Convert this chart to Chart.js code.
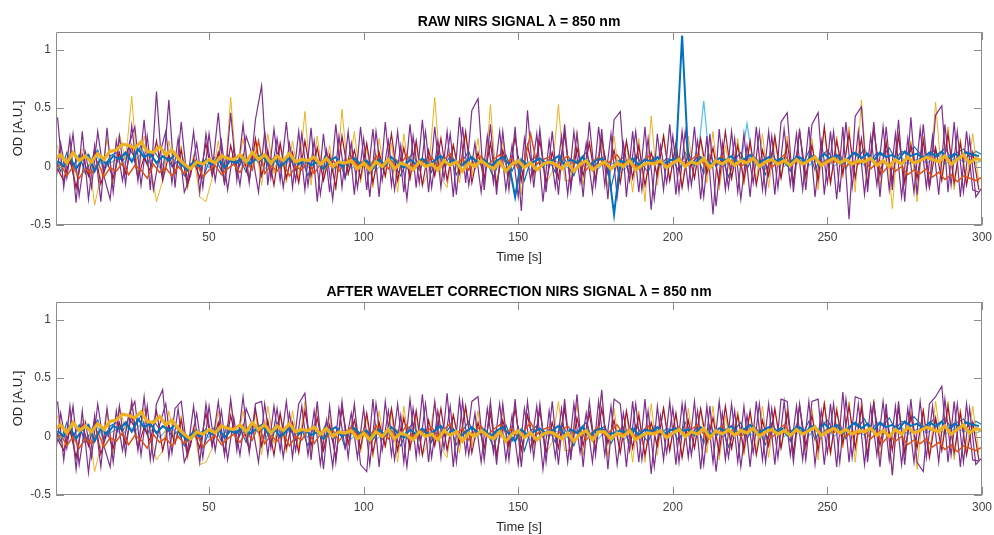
<!DOCTYPE html>
<html>
<head>
<meta charset="utf-8">
<script src="https://cdn.jsdelivr.net/npm/chart.js@4.4.0/dist/chart.umd.min.js"></script>
<style>
  body { margin: 0; background: #fff; width: 994px; height: 535px; overflow: hidden; position: relative; }
  canvas { position: absolute; left: 0; }
  #rawChart { top: 0; }
  #waveletChart { top: 270px; }
</style>
</head>
<body>
<canvas id="rawChart" width="994" height="265"></canvas>
<canvas id="waveletChart" width="994" height="265"></canvas>
<script>
// sample times [s]; channels alternate between the two grids
const timeEven = [0,2,4,6,8,10,12,14,16,18,20,22,24,26,28,30,32,34,36,38,40,42,44,46,48,50,52,54,56,58,60,62,64,66,68,70,72,74,76,78,80,82,84,86,88,90,92,94,96,98,100,102,104,106,108,110,112,114,116,118,120,122,124,126,128,130,132,134,136,138,140,142,144,146,148,150,152,154,156,158,160,162,164,166,168,170,172,174,176,178,180,182,184,186,188,190,192,194,196,198,200,202,204,206,208,210,212,214,216,218,220,222,224,226,228,230,232,234,236,238,240,242,244,246,248,250,252,254,256,258,260,262,264,266,268,270,272,274,276,278,280,282,284,286,288,290,292,294,296,298,300];
const timeOdd = [1,3,5,7,9,11,13,15,17,19,21,23,25,27,29,31,33,35,37,39,41,43,45,47,49,51,53,55,57,59,61,63,65,67,69,71,73,75,77,79,81,83,85,87,89,91,93,95,97,99,101,103,105,107,109,111,113,115,117,119,121,123,125,127,129,131,133,135,137,139,141,143,145,147,149,151,153,155,157,159,161,163,165,167,169,171,173,175,177,179,181,183,185,187,189,191,193,195,197,199,201,203,205,207,209,211,213,215,217,219,221,223,225,227,229,231,233,235,237,239,241,243,245,247,249,251,253,255,257,259,261,263,265,267,269,271,273,275,277,279,281,283,285,287,289,291,293,295,297,299];

const xTickValues = [50, 100, 150, 200, 250, 300];
const yTickValues = [-0.5, 0, 0.5, 1];

// raw OD per channel
const rawYellow = [.06,.10,.03,.12,.05,.09,.04,.11,.06,.13, .14,.19,.18,.16,.21,.13,.12,.17,.10,.14, .07,.02,-.02,.04,.02,.06,.03,.09,.07,.06, .10,.04,.12,.06,.10,.03,.09,.05,.11,.04, .06,.05,.08,.02,.07,.00,.04,.03,.05,-.02, .03,-.03,.04,.00,.06,-.02,.03,.01,-.03,.04, .00,.02,-.03,.05,.01,.04,-.04,.03,.00,.05, .01,-.02,.04,-.04,.02,.05,-.01,.03,-.03,.02, .04,.02,-.02,.03,-.04,.02,.05,-.03,.01,.04, -.02,.03,.00,.05,-.03,.01,.03,.02,.05,-.01, .03,.06,.00,.04,.02,.07,-.01,.05,.02,.06, .01,.05,.03,.07,.00,.04,.06,.02,.05,.01, .06,.02,.05,.08,.01,.04,.07,.03,.06,.02, .05,.04,.07,.01,.05,.00,.06,.02,.08,.03, .05,.08,.06,.04,.09,.02,.06,.10,.03,.07, .05];
const rawYellow2 = [.18,-.12,.22,-.20,.15,.10,-.33,-.08,.24,-.15, .28,.05,.60,-.10,.26,.02,-.30,-.12,.22,-.05, .18,-.20,.10,-.26,-.30,-.10,.22,-.14,.59,-.08, .24,-.12,.20,-.16,.28,-.06,.18,-.14,.22,-.10, .47,-.16,.26,-.12,.18,-.20,.49,-.08,.30,-.14, .16,-.18,.24,-.10,.20,-.22,.28,-.12,.18,-.16, -.05,.59,-.10,-.18,.20,-.14,.26,-.08,.24,-.20, .53,-.16,.22,-.12,.28,-.24,.20,-.10,.26,-.14, -.05,.53,-.12,-.12,.30,-.16,.22,-.08,.20,-.18, .26,-.14,.20,-.22,.24,-.30,.43,-.16,.28,-.12, .20,-.18,.26,-.10,.22,-.14,.30,-.20,.18,-.12, .24,-.16,.20,-.12,.28,-.18,.22,-.10,.26,-.14, .30,-.12,.24,-.20,.32,-.16,.26,-.10,.34,-.22, .57,-.14,.36,-.18,.24,-.36,.30,-.12,.22,-.30, .26,-.16,.55,-.10,.34,-.20,.24,-.12,.28,-.14];
const rawPurple = [.42,-.18,.25,-.31,.30,-.28,.18,-.30,.33,-.22, .26,-.15,.35,-.12,.40,-.20,.64,-.10,.57,-.18, .38,-.14,.30,-.22,.28,-.05,.46,-.16,.46,-.12, .36,-.14,.40,.69,-.16,.32,-.12,.38,-.18,.30, -.20,.33,-.30,.28,-.22,.36,-.18,.30,-.24,.34, -.20,.32,-.26,.38,-.16,.30,-.22,.36,-.18,.40, -.22,.34,-.18,.30,-.26,.42,-.14,.48,.58,-.20, .36,-.24,.30,-.20,.34,-.38,.48,-.18,.32,-.22, .30,-.24,.36,-.20,.28,-.26,.38,-.16,.32,-.28, .40,.47,-.26,.30,-.22,.34,-.37,.28,-.20,.36, -.24,.30,-.18,.34,-.28,.26,-.41,.32,-.20,.30, -.22,.28,-.26,.34,-.20,.30,-.24,.38,.46,-.22, .32,-.20,.36,.46,-.24,.30,-.28,.34,-.45,.43, .51,-.22,.38,-.26,.34,-.20,.40,-.30,.42,-.24, .36,-.18,.44,.52,-.22,.38,-.26,.30,-.20,-.22];
const rawPurple2 = [-.22,.20,-.10,.28,-.25,.12,-.18,.30,-.08,-.28, .22,-.12,.18,.34,-.16,.26,-.20,.10,.30,-.14, .24,-.22,-.08,.20,-.18,.28,-.12,.22,-.20,.16, -.16,.26,.10,-.22,.30,-.10,.24,-.18,.20,-.12, .28,-.16,.22,-.24,.14,-.28,.26,-.10,.20,-.18, .24,-.26,.30,-.12,.22,-.20,.18,-.28,.26,-.14, .30,-.18,.22,-.10,.28,-.24,.34,-.16,.20,-.22, .26,-.14,.30,-.20,.18,-.26,.24,-.12,.28,-.30, .22,-.18,.26,-.24,.30,-.14,.20,-.22,.34,-.16, .28,-.26,.20,-.12,.30,-.20,.24,-.28,.18,-.14, .26,-.22,.30,-.16,.22,-.26,.28,-.34,.20,-.18, .24,-.28,.18,-.14,.30,-.22,.26,-.18,.32,-.16, .28,-.20,.34,-.26,.22,-.14,.30,-.22,.38,-.18, .30,-.24,.26,-.16,.34,-.20,.28,-.26,.24,-.22, .32,-.18,.26,-.24,.36,-.16,.30,-.22,.24,-.26, -.18];
const rawBlue = [.05,.00,.08,-.02,.06,.10,-.04,.07,.02,.09, .06,.12,.04,.15,.08,.11,.03,.09,.05,.10, .02,-.03,.04,.00,.06,.02,.07,-.01,.05,.03, .08,.02,.06,.10,.03,.07,.00,.05,.08,.02, .06,.01,.04,-.02,.05,.08,.00,.04,.07,.02, .05,-.02,.06,.01,.08,.03,-.01,.06,.02,.07, .01,.05,.09,.02,.06,-.01,.04,.08,.03,.06, .00,.05,.08,.02,-.26,.06,.01,.04,.07,.03, .05,.09,.01,.06,.03,.08,.00,.05,.07,.02, -.41,.05,.03,.07,.01,.06,.04,.08,.02,.05, .07,1.12,.06,.01,.08,.04,.02,.07,.05,.09, .03,.06,.10,.02,.05,.08,.04,.07,.01,.06, .08,.04,.09,.05,.11,.06,.10,.03,.08,.12, .07,.11,.05,.12,.08,.10,.06,.13,.09,.11, .07,.12,.09,.13,.06,.11,.08,.12,.10,.09];
const rawBlue2 = [.08,-.04,.12,.00,.10,-.06,.06,.14,-.02,.09, .12,.04,.16,.08,.18,.02,.14,.06,.10,.00, .05,-.08,.02,.06,-.10,.04,.08,-.04,.10,.02, .07,-.05,.11,.03,.09,-.06,.12,.01,.08,-.03, .06,-.08,.10,.00,.12,-.04,.07,-.10,.09,.02, .04,-.06,.10,-.02,.08,.01,-.08,.06,.11,-.03, .07,-.05,.12,.00,.09,-.07,.05,.13,-.02,.08, .03,-.09,.06,.10,-.04,.08,-.12,.05,.09,-.01, .06,-.05,.11,.02,-.08,.07,.12,-.03,.05,.09, -.18,.04,.08,-.06,.10,.02,-.05,.09,.01,.07, .05,-.04,.12,.03,.08,-.06,.10,.00,.07,-.09, .06,.12,-.02,.09,.04,-.07,.11,.03,.08,-.04, .10,.02,.13,-.03,.09,.14,.05,.11,-.02,.12, .08,.15,.04,.12,.09,.16,.06,.13,.10,.17, .11,.06,.14,.09,.16,.07,.12,.15,.08,.13, .10];
const rawOrange = [-.05,.02,-.08,.00,-.10,-.02,-.06,.04,-.09,-.01, -.04,.03,-.07,.01,-.03,-.10,.02,-.05,-.01,-.08, .00,-.06,-.02,.03,-.09,-.03,.01,-.07,-.02,.02, -.05,.04,-.03,.22,-.06,.01,-.04,.03,-.08,.00, -.03,.05,-.06,.02,-.01,.06,-.04,.03,.08,.01, .05,.00,.09,.03,-.02,.07,.02,.10,-.01,.06, .03,.08,.00,.06,.11,.02,.07,-.03,.05,.09, .01,.06,.10,.03,.07,-.02,.05,.28,.02,.06, .08,.00,.05,.09,.02,.06,-.03,.04,.08,.01, .05,.10,.02,.07,-.01,.04,.09,.03,.06,.00, .04,.08,.01,.06,.10,.02,-.02,.05,.09,.03, .06,.00,.04,.08,.02,.07,-.01,.05,.10,.03, .07,.02,.05,.09,.01,.06,.03,.08,.00,.04, .02,.06,-.02,.03,-.05,.01,-.04,.00,-.07,-.03, -.06,-.02,-.09,-.05,-.11,-.07,-.13,-.08,-.10,-.12, -.09];
const rawDarkRed = [-.02,-.12,.06,-.18,.10,-.08,.14,-.15,.04,-.10, .12,-.06,.18,-.10,.08,-.04,.22,-.12,.10,-.06, .14,-.16,.06,-.10,.20,-.08,.12,-.14,.18,-.06, .10,-.12,.24,-.08,.14,-.16,.20,-.10,.12,-.14, .22,-.08,.16,-.12,.10,-.18,.26,-.06,.14,-.10, .20,-.14,.12,-.08,.28,-.12,.16,-.10,.22,-.16, .14,-.08,.24,-.12,.18,-.06,.30,-.14,.12,-.10, .20,-.16,.14,-.08,.26,-.12,.18,-.06,.22,-.14, .12,-.10,.28,-.16,.16,-.08,.20,-.12,.24,-.06, .14,-.14,.22,-.10,.18,-.16,.12,-.08,.26,-.12, .20,-.18,.14,-.10,.24,-.06,.16,-.14,.30,-.10, .18,-.12,.22,-.16,.14,-.08,.26,-.10,.20,-.14, .30,-.08,.18,-.12,.34,-.14,.22,-.06,.28,-.10, .24,-.16,.32,-.08,.20,-.12,.26,-.14,.18,-.10, .22,-.18,.16,-.12,.28,-.14,.20,-.16,.12,-.20];
const rawCyan = [.02,-.04,.05,.00,.07,-.02,.04,.08,-.03,.03, .06,.01,.09,.04,.11,.02,.07,-.01,.05,.08, .00,.04,-.03,.02,.05,-.01,.06,.02,.04,.07, .01,.05,.03,.08,-.02,.04,.06,.00,.05,.02, .06,-.01,.03,.05,.00,.04,.02,.06,-.02,.03, .01,.05,-.03,.02,.04,.00,.06,-.02,.03,.01, .05,-.01,.03,.06,.00,.04,-.03,.02,.05,.01, .03,.00,.06,-.02,.04,.01,.05,-.03,.02,.04, .00,.05,.02,-.01,.04,.06,.01,.03,-.02,.05, .02,.04,-.03,.01,.05,.00,.03,.06,.01,.04, .02,.05,.04,.03,.05,.56,.01,.04,.00,.03, .05,.02,.37,.01,.04,-.02,.03,.06,.00,.04, .02,.06,.01,.05,.03,.07,.00,.04,.06,.02, .05,.01,.07,.03,.06,.00,.04,.08,.02,.05, .07,.03,.06,.09,.02,.05,.08,.04,.06,.03, .05];

// OD per channel after wavelet correction
const wavYellow = [.06,.10,.03,.12,.05,.09,.04,.11,.06,.13, .14,.19,.18,.16,.21,.13,.12,.17,.10,.14, .07,.02,-.02,.04,.02,.06,.03,.09,.07,.06, .10,.04,.12,.06,.10,.03,.09,.05,.11,.04, .06,.05,.08,.02,.07,.00,.04,.03,.05,-.02, .03,-.03,.04,.00,.06,-.02,.03,.01,-.03,.04, .00,.02,-.03,.05,.01,.04,-.04,.03,.00,.05, .01,-.02,.04,-.04,.02,.05,-.01,.03,-.03,.02, .04,.02,-.02,.03,-.04,.02,.05,-.03,.04,.04, -.02,.03,.00,.05,-.03,.01,.03,.02,.05,-.01, .03,.06,.00,.04,.02,.07,-.01,.05,.02,.06, .01,.05,.03,.07,.00,.04,.06,.02,.05,.01, .06,.02,.05,.08,.01,.04,.07,.03,.06,.02, .05,.04,.07,.01,.05,.00,.06,.02,.08,.03, .05,.08,.06,.04,.09,.02,.06,.10,.03,.07, .05];
const wavYellow2 = [.18,-.12,.22,-.20,.15,.10,-.30,-.08,.24,-.15, .26,.05,.30,-.10,.24,.02,-.20,-.12,.22,-.05, .18,-.20,.10,-.24,-.22,-.10,.22,-.14,.28,-.08, .22,-.12,.20,-.16,.26,-.06,.18,-.14,.22,-.10, .30,-.16,.24,-.12,.18,-.20,.28,-.08,.26,-.14, .16,-.18,.22,-.10,.20,-.22,.26,-.12,.18,-.16, -.05,.30,-.10,-.18,.20,-.14,.24,-.08,.22,-.20, .28,-.16,.22,-.12,.26,-.22,.20,-.10,.24,-.14, -.05,.30,-.12,-.12,.28,-.16,.22,-.08,.38,-.18, .24,-.14,.20,-.22,.22,-.22,.28,-.16,.26,-.12, .20,-.18,.24,-.10,.22,-.14,.26,-.20,.18,-.12, .22,-.16,.20,-.12,.26,-.18,.22,-.10,.24,-.14, .28,-.12,.24,-.20,.30,-.16,.26,-.10,.30,-.22, .30,-.14,.32,-.18,.24,-.33,.28,-.12,.22,-.28, .24,-.16,.30,-.10,.30,-.20,.24,-.12,.26,-.14];
const wavPurple = [.30,-.20,.26,-.28,.22,-.31,.18,-.26,.24,-.22, .26,-.15,.30,-.12,.34,-.20,.28,.40,-.18,.24, .30,-.14,.26,-.22,.28,-.08,.30,-.16,.32,-.12, .34,-.14,.28,.30,-.16,.26,-.12,.30,-.18,.28, .37,-.20,.30,-.28,.26,-.22,.30,-.18,.28,-.24, -.30,.32,-.26,.30,-.16,.28,-.22,.32,-.18,.36, -.22,.30,-.18,.37,-.26,.32,-.14,.30,.34,-.20, .30,-.24,.28,-.20,.32,-.26,.30,-.18,.28,-.22, .30,-.24,.32,-.20,.36,-.26,.30,-.16,.40,-.28, .32,.28,-.26,.30,-.22,.32,-.32,.26,-.20,.30, -.24,.28,-.18,.30,-.28,.26,-.22,.30,-.20,.28, -.22,.26,-.26,.30,-.20,.28,-.24,.32,.30,-.22, .28,-.20,.30,.32,-.24,.28,-.26,.38,-.22,.34, .32,-.22,.30,-.26,.28,-.33,.30,-.24,.32,-.22, -.30,.28,.34,.43,-.22,.30,-.26,.28,-.20,-.21];
const wavPurple2 = [-.22,.20,-.10,.26,-.24,.12,-.18,.28,-.08,-.26, .22,-.12,.18,.30,-.16,.26,-.20,.10,.28,-.14, .24,-.22,-.08,.20,-.18,.26,-.12,.22,-.20,.16, -.16,.24,.10,-.22,.28,-.10,.24,-.18,.20,-.12, .26,-.16,.22,-.24,.14,-.26,.24,-.10,.20,-.18, .24,-.24,.28,-.12,.22,-.20,.18,-.26,.24,-.14, .28,-.18,.22,-.10,.26,-.22,.30,-.16,.20,-.22, .24,-.14,.28,-.20,.18,-.24,.24,-.12,.26,-.28, .22,-.18,.24,-.22,.28,-.14,.20,-.22,.30,-.16, .26,-.24,.20,-.12,.28,-.20,.22,-.26,.18,-.14, .24,-.22,.28,-.16,.22,-.24,.26,-.30,.20,-.18, .22,-.26,.18,-.14,.28,-.22,.24,-.18,.30,-.16, .26,-.20,.30,-.24,.22,-.14,.28,-.22,.32,-.18, .28,-.24,.26,-.16,.30,-.20,.26,-.24,.24,-.22, .30,-.18,.26,-.22,.32,-.16,.28,-.22,.24,-.24, -.18];
const wavBlue = [.05,.00,.08,-.02,.06,.10,-.04,.07,.02,.09, .06,.12,.04,.15,.08,.11,.03,.09,.05,.10, .02,-.03,.04,.00,.06,.02,.07,-.01,.05,.03, .08,.02,.06,.10,.03,.07,.00,.05,.08,.02, .06,.01,.04,-.02,.05,.08,.00,.04,.07,.02, .05,-.02,.06,.01,.08,.03,-.01,.06,.02,.07, .01,.05,.09,.02,.06,-.01,.04,.08,.03,.06, .00,.05,.08,.02,-.04,.06,.01,.04,.07,.03, .05,.09,.01,.06,.03,.08,.00,.05,.07,.02, .03,.05,.03,.07,.01,.06,.04,.08,.02,.05, .07,.05,.06,.01,.08,.04,.02,.07,.05,.09, .03,.06,.10,.02,.05,.08,.04,.07,.01,.06, .08,.04,.09,.05,.11,.06,.10,.03,.08,.12, .07,.11,.05,.12,.08,.10,.06,.13,.09,.11, .07,.12,.09,.13,.06,.11,.08,.12,.10,.09];
const wavBlue2 = [.08,-.04,.12,.00,.10,-.06,.06,.14,-.02,.09, .12,.04,.16,.08,.18,.02,.14,.06,.10,.00, .05,-.08,.02,.06,-.10,.04,.08,-.04,.10,.02, .07,-.05,.11,.03,.09,-.06,.12,.01,.08,-.03, .06,-.08,.10,.00,.12,-.04,.07,-.10,.09,.02, .04,-.06,.10,-.02,.08,.01,-.08,.06,.11,-.03, .07,-.05,.12,.00,.09,-.07,.05,.13,-.02,.08, .03,-.09,.06,.10,-.04,.08,-.12,.05,.09,-.01, .06,-.05,.11,.02,-.08,.07,.12,-.03,.05,.09, -.06,.04,.08,-.06,.10,.02,-.05,.09,.01,.07, .05,-.04,.12,.03,.08,-.06,.10,.00,.07,-.09, .06,.12,-.02,.09,.04,-.07,.11,.03,.08,-.04, .10,.02,.13,-.03,.09,.14,.05,.11,-.02,.12, .08,.15,.04,.12,.09,.16,.06,.13,.10,.17, .11,.06,.14,.09,.16,.07,.12,.15,.08,.13, .10];
const wavOrange = [-.05,.02,-.08,.00,-.10,-.02,-.06,.04,-.09,-.01, -.04,.03,-.07,.01,-.03,-.10,.02,-.05,-.01,-.08, .00,-.06,-.02,.03,-.09,-.03,.01,-.07,-.02,.02, -.05,.04,-.03,.10,-.06,.01,-.04,.03,-.08,.00, -.03,.05,-.06,.02,-.01,.06,-.04,.03,.08,.01, .05,.00,.09,.03,-.02,.07,.02,.10,-.01,.06, .03,.08,.00,.06,.11,.02,.07,-.03,.05,.09, .01,.06,.10,.03,.07,-.02,.05,.12,.02,.06, .08,.00,.05,.09,.02,.06,-.03,.04,.08,.01, .05,.10,.02,.07,-.01,.04,.09,.03,.06,.00, .04,.08,.01,.06,.10,.02,-.02,.05,.09,.03, .06,.00,.04,.08,.02,.07,-.01,.05,.10,.03, .07,.02,.05,.09,.01,.06,.03,.08,.00,.04, .02,.06,-.02,.03,-.05,.01,-.04,.00,-.07,-.03, -.06,-.02,-.09,-.05,-.11,-.07,-.13,-.08,-.10,-.12, -.09];
const wavDarkRed = [-.02,-.12,.06,-.18,.10,-.08,.14,-.15,.04,-.10, .12,-.06,.18,-.10,.08,-.04,.22,-.12,.10,-.06, .14,-.16,.06,-.10,.20,-.08,.12,-.14,.18,-.06, .10,-.12,.24,-.08,.14,-.16,.20,-.10,.12,-.14, .22,-.08,.16,-.12,.10,-.18,.24,-.06,.14,-.10, .20,-.14,.12,-.08,.24,-.12,.16,-.10,.22,-.16, .14,-.08,.24,-.12,.18,-.06,.26,-.14,.12,-.10, .20,-.16,.14,-.08,.24,-.12,.18,-.06,.22,-.14, .12,-.10,.24,-.16,.16,-.08,.20,-.12,.24,-.06, .14,-.14,.22,-.10,.18,-.16,.12,-.08,.24,-.12, .20,-.18,.14,-.10,.24,-.06,.16,-.14,.26,-.10, .18,-.12,.22,-.16,.14,-.08,.24,-.10,.20,-.14, .26,-.08,.18,-.12,.28,-.14,.22,-.06,.26,-.10, .24,-.16,.28,-.08,.20,-.12,.24,-.14,.18,-.10, .22,-.18,.16,-.12,.26,-.14,.20,-.16,.12,-.20];
const wavCyan = [.02,-.04,.05,.00,.07,-.02,.04,.08,-.03,.03, .06,.01,.09,.04,.11,.02,.07,-.01,.05,.08, .00,.04,-.03,.02,.05,-.01,.06,.02,.04,.07, .01,.05,.03,.08,-.02,.04,.06,.00,.05,.02, .06,-.01,.03,.05,.00,.04,.02,.06,-.02,.03, .01,.05,-.03,.02,.04,.00,.06,-.02,.03,.01, .05,-.01,.03,.06,.00,.04,-.03,.02,.05,.01, .03,.00,.06,-.02,.04,.01,.05,-.03,.02,.04, .00,.05,.02,-.01,.04,.06,.01,.03,-.02,.05, .02,.04,-.03,.01,.05,.00,.03,.06,.01,.04, .02,.05,.04,.03,.05,.06,.01,.04,.00,.03, .05,.02,.03,.01,.04,-.02,.03,.06,.00,.04, .02,.06,.01,.05,.03,.07,.00,.04,.06,.02, .05,.01,.07,.03,.06,.00,.04,.08,.02,.05, .07,.03,.06,.09,.02,.05,.08,.04,.06,.03, .05];

const lineColors = {
  yellow: '#EDB120', purple: '#7E2F8E', blue: '#0072BD',
  orange: '#D95319', darkRed: '#A2142F', cyan: '#4DBEEE'
};

Chart.defaults.font.family = '"Liberation Sans", Arial, Helvetica, sans-serif';

// axes box with inward tick marks on all four sides, plus the panel title
const boxTicks = {
  id: 'boxTicks',
  afterDraw(chart, args, opts) {
    const { ctx, chartArea: a, scales: { x, y } } = chart;
    const len = 8;
    ctx.save();
    ctx.strokeStyle = '#8c8c8c';
    ctx.lineWidth = 1;
    ctx.beginPath();
    ctx.rect(a.left + 0.5, a.top + 0.5, a.right - a.left - 1, a.bottom - a.top - 1);
    x.ticks.forEach(t => {
      const px = Math.round(x.getPixelForValue(t.value)) + 0.5;
      ctx.moveTo(px, a.bottom); ctx.lineTo(px, a.bottom - len);
      ctx.moveTo(px, a.top); ctx.lineTo(px, a.top + len);
    });
    y.ticks.forEach(t => {
      const py = Math.round(y.getPixelForValue(t.value)) + 0.5;
      ctx.moveTo(a.left, py); ctx.lineTo(a.left + len, py);
      ctx.moveTo(a.right, py); ctx.lineTo(a.right - len, py);
    });
    ctx.stroke();

    ctx.fillStyle = '#000';
    ctx.font = 'bold 14px "Liberation Sans", Arial, sans-serif';
    ctx.textAlign = 'center';
    ctx.textBaseline = 'middle';
    ctx.fillText(opts.text, (a.left + a.right) / 2, 22);
    ctx.restore();
  }
};

function toPoints(times, values) {
  return times.map((t, i) => ({ x: t, y: values[i] }));
}

function makeChart(id, title, channels) {
  return new Chart(document.getElementById(id), {
    type: 'line',
    data: {
      datasets: channels.map(c => ({
        data: toPoints(c.times, c.values),
        borderColor: c.color,
        borderWidth: c.width,
        pointRadius: 0,
        tension: 0
      }))
    },
    options: {
      responsive: false,
      animation: false,
      devicePixelRatio: 1,
      layout: { padding: { left: 0, right: 12, top: 32, bottom: 0 } },
      plugins: {
        legend: { display: false },
        tooltip: { enabled: false },
        title: { display: false },
        boxTicks: { text: title }
      },
      scales: {
        x: {
          type: 'linear',
          min: 0.5,
          max: 300,
          afterBuildTicks: s => { s.ticks = xTickValues.map(v => ({ value: v })); },
          afterFit: s => { s.height = 40; s.paddingLeft = 0; s.paddingRight = 0; },
          grid: { display: false, drawTicks: false },
          border: { display: false },
          ticks: { color: '#404040', font: { size: 12 }, padding: 5, maxRotation: 0, autoSkip: false, callback: v => String(v) },
          title: { display: true, text: 'Time [s]', color: '#262626', font: { size: 13 }, padding: { top: 0, bottom: 0 } }
        },
        y: {
          min: -0.5,
          max: 1.15,
          afterBuildTicks: s => { s.ticks = yTickValues.map(v => ({ value: v })); },
          afterFit: s => { s.width = 56; s.paddingTop = 0; s.paddingBottom = 0; },
          grid: { display: false, drawTicks: false },
          border: { display: false },
          ticks: { color: '#404040', font: { size: 12 }, padding: 5, callback: v => String(v) },
          title: { display: true, text: 'OD [A.U.]', color: '#262626', font: { size: 13 }, padding: { top: 11, bottom: 0 } }
        }
      }
    },
    plugins: [boxTicks]
  });
}

makeChart('rawChart', 'RAW NIRS SIGNAL \u03BB = 850 nm', [
  { times: timeEven, values: rawYellow, color: lineColors.yellow, width: 3.2 },
  { times: timeOdd, values: rawBlue, color: lineColors.blue, width: 2 },
  { times: timeEven, values: rawOrange, color: lineColors.orange, width: 1.5 },
  { times: timeOdd, values: rawPurple, color: lineColors.purple, width: 1.2 },
  { times: timeOdd, values: rawDarkRed, color: lineColors.darkRed, width: 1.2 },
  { times: timeEven, values: rawPurple2, color: lineColors.purple, width: 1.2 },
  { times: timeOdd, values: rawYellow2, color: lineColors.yellow, width: 1 },
  { times: timeEven, values: rawBlue2, color: lineColors.blue, width: 1.2 },
  { times: timeEven, values: rawCyan, color: lineColors.cyan, width: 1.2 }
]);

makeChart('waveletChart', 'AFTER WAVELET CORRECTION NIRS SIGNAL \u03BB = 850 nm', [
  { times: timeEven, values: wavYellow, color: lineColors.yellow, width: 3.2 },
  { times: timeOdd, values: wavBlue, color: lineColors.blue, width: 2 },
  { times: timeEven, values: wavOrange, color: lineColors.orange, width: 1.5 },
  { times: timeOdd, values: wavPurple, color: lineColors.purple, width: 1.2 },
  { times: timeOdd, values: wavDarkRed, color: lineColors.darkRed, width: 1.2 },
  { times: timeEven, values: wavPurple2, color: lineColors.purple, width: 1.2 },
  { times: timeOdd, values: wavYellow2, color: lineColors.yellow, width: 1 },
  { times: timeEven, values: wavBlue2, color: lineColors.blue, width: 1.2 },
  { times: timeEven, values: wavCyan, color: lineColors.cyan, width: 1.2 }
]);
</script>
</body>
</html>
